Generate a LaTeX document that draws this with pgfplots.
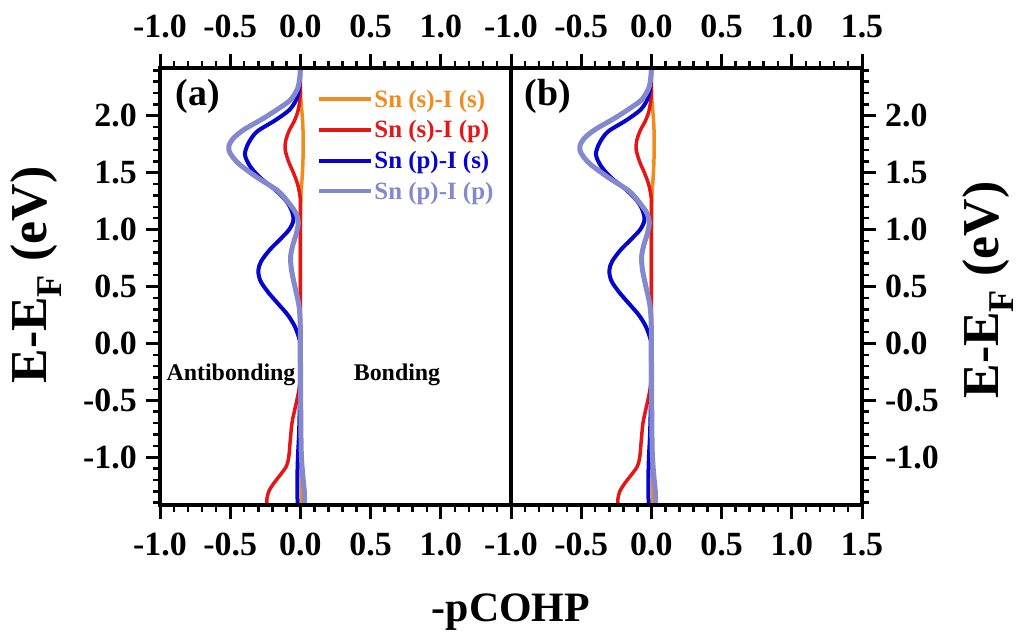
\documentclass[border=0pt]{standalone}
\usepackage{pgfplots}
\usepackage{pgfplotstable}
\pgfplotsset{compat=1.18}
\usepackage{fontspec}
\setmainfont{Liberation Serif}

\definecolor{cOrange}{RGB}{240,140,30}
\definecolor{cRed}{RGB}{228,22,22}
\definecolor{cBlue}{RGB}{5,5,205}
\definecolor{cLight}{RGB}{132,137,205}

\pgfplotstableread{
E x
-1.42 0.010
-1.2 0.008
-1.0 0.005
-0.6 0.002
0.0 0.000
0.6 0.000
1.1 0.001
1.3 0.004
1.45 0.012
1.6 0.018
1.75 0.020
1.9 0.018
2.0 0.013
2.1 0.006
2.2 0.001
2.42 0.000
}\tabSsIs

\pgfplotstableread{
E x
-1.42 -0.235
-1.38 -0.240
-1.30 -0.225
-1.23 -0.19
-1.15 -0.14
-1.08 -0.10
-1.00 -0.083
-0.85 -0.072
-0.70 -0.06
-0.58 -0.04
-0.47 -0.02
-0.38 -0.007
-0.30 -0.002
-0.2 0.0
0.5 0.0
1.2 0.0
1.30 -0.004
1.40 -0.02
1.50 -0.05
1.60 -0.085
1.70 -0.108
1.78 -0.105
1.87 -0.08
1.95 -0.045
2.03 -0.02
2.12 -0.006
2.22 0.0
2.42 0.0
}\tabSsIp

\pgfplotstableread{
E x
-1.42 -0.02
-1.2 -0.022
-1.0 -0.018
-0.8 -0.01
-0.5 -0.004
-0.2 -0.003
0.0 -0.004
0.05 -0.01
0.15 -0.04
0.25 -0.09
0.35 -0.16
0.45 -0.23
0.55 -0.285
0.64 -0.30
0.72 -0.28
0.82 -0.22
0.92 -0.14
1.0 -0.08
1.08 -0.05
1.16 -0.06
1.25 -0.10
1.35 -0.18
1.46 -0.29
1.56 -0.36
1.66 -0.395
1.76 -0.37
1.86 -0.31
1.96 -0.18
2.05 -0.08
2.14 -0.03
2.25 -0.008
2.42 0.0
}\tabSpIs

\pgfplotstableread{
E x
-1.42 0.03
-1.3 0.028
-1.2 0.02
-1.05 0.01
-0.9 0.005
-0.5 0.002
0.0 0.0
0.2 -0.002
0.33 -0.01
0.45 -0.03
0.56 -0.05
0.66 -0.065
0.76 -0.07
0.86 -0.055
0.96 -0.03
1.06 -0.015
1.14 -0.03
1.23 -0.08
1.34 -0.16
1.46 -0.31
1.58 -0.44
1.67 -0.50
1.73 -0.51
1.80 -0.48
1.88 -0.40
1.98 -0.26
2.06 -0.16
2.14 -0.07
2.24 -0.02
2.33 -0.005
2.42 0.0
}\tabSpIp

\pgfplotsset{
  panel/.style={
    scale only axis, width=351bp, height=437bp, anchor=south west,
    xmin=-1, xmax=1.5, ymin=-1.42, ymax=2.42,
    axis line style={line width=3.5bp},
    tick align=outside,
    major tick length=14bp, minor tick length=7bp,
    every tick/.style={line width=3bp, black},
    every minor tick/.style={line width=2.5bp, black},
    minor xtick={-1,-0.9,...,1.5},
    minor ytick={-1.4,-1.3,...,2.4},
    ytick={-1,-0.5,0,0.5,1,1.5,2},
    yticklabels={-1.0,-0.5,0.0,0.5,1.0,1.5,2.0},
    xticklabel style={font=\fontsize{34}{34}\selectfont\bfseries, inner sep=0pt},
    yticklabel style={font=\fontsize{34}{34}\selectfont\bfseries, inner sep=0pt},
    yticklabel shift=9bp,
    xtick pos=both,
  },
  curve/.style={smooth, tension=0.5, line join=round},
}
\newcommand{\lgf}{\fontsize{25}{25}\selectfont\bfseries}

\begin{document}
\begin{tikzpicture}
\path[use as bounding box] (0,0) rectangle (1024bp,642bp);

% ---------- panel (a) ----------
\begin{axis}[panel, at={(160bp,137bp)},
  xtick={-1,-0.5,0,0.5,1,1.5}, xticklabels={-1.0,-0.5,0.0,0.5,1.0,{}},
  ytick pos=left,
  xticklabel shift=14bp,
  legend style={draw=none, fill=none, at={(0.448,0.953)}, anchor=north west,
    row sep=10bp, inner sep=0pt,
    nodes={inner sep=1bp, font=\lgf}},
  legend cell align=left,
  legend image code/.code={\draw[#1, line width=4bp] (0bp,0bp) -- (52bp,0bp);},
]
\addplot[curve, cOrange, line width=3.5bp] table[x=x, y=E] {\tabSsIs};
\addlegendentry{\lgf\textcolor{cOrange}{Sn (s)-I (s)}}
\addplot[curve, cRed, line width=3.5bp] table[x=x, y=E] {\tabSsIp};
\addlegendentry{\lgf\textcolor{cRed}{Sn (s)-I (p)}}
\addplot[curve, cBlue, line width=4bp] table[x=x, y=E] {\tabSpIs};
\addlegendentry{\lgf\textcolor{cBlue}{Sn (p)-I (s)}}
\addplot[curve, cLight, line width=5bp] table[x=x, y=E] {\tabSpIp};
\addlegendentry{\lgf\textcolor{cLight}{Sn (p)-I (p)}}
\end{axis}
\begin{axis}[panel, at={(160bp,137bp)},
  xtick={-1,-0.5,0,0.5,1,1.5}, xticklabels={-1.0,-0.5,0.0,0.5,1.0,{}},
  xticklabel pos=upper, ytick=\empty, minor ytick={},
  xticklabel shift=16bp,
]
\end{axis}

% ---------- panel (b) ----------
\begin{axis}[panel, at={(511bp,137bp)},
  xtick={-1,-0.5,0,0.5,1,1.5}, xticklabels={-1.0,-0.5,0.0,0.5,1.0,1.5},
  ytick pos=right, yticklabel pos=right,
  xticklabel shift=14bp,
]
\addplot[curve, cOrange, line width=3.5bp] table[x=x, y=E] {\tabSsIs};
\addplot[curve, cRed, line width=3.5bp] table[x=x, y=E] {\tabSsIp};
\addplot[curve, cBlue, line width=4bp] table[x=x, y=E] {\tabSpIs};
\addplot[curve, cLight, line width=5bp] table[x=x, y=E] {\tabSpIp};
\end{axis}
\begin{axis}[panel, at={(511bp,137bp)},
  xtick={-1,-0.5,0,0.5,1,1.5}, xticklabels={-1.0,-0.5,0.0,0.5,1.0,1.5},
  xticklabel pos=upper, ytick=\empty, minor ytick={},
  xticklabel shift=16bp,
]
\end{axis}

% ---------- texts ----------
\node[font=\fontsize{38}{38}\selectfont\bfseries] at (198bp,546bp) {(a)};
\node[font=\fontsize{38}{38}\selectfont\bfseries] at (548bp,546bp) {(b)};
\node[font=\fontsize{24}{24}\selectfont\bfseries] at (231bp,267bp) {Antibonding};
\node[font=\fontsize{24}{24}\selectfont\bfseries] at (397bp,267bp) {Bonding};
\node[font=\fontsize{52}{52}\selectfont\bfseries, rotate=90, inner sep=0pt] at (36bp,367bp) {E-E\textsubscript{F} (eV)};
\node[font=\fontsize{52}{52}\selectfont\bfseries, rotate=90, inner sep=0pt] at (988bp,352bp) {E-E\textsubscript{F} (eV)};
\node[font=\fontsize{42}{42}\selectfont\bfseries] at (511bp,30bp) {-pCOHP};
\end{tikzpicture}
\end{document}
